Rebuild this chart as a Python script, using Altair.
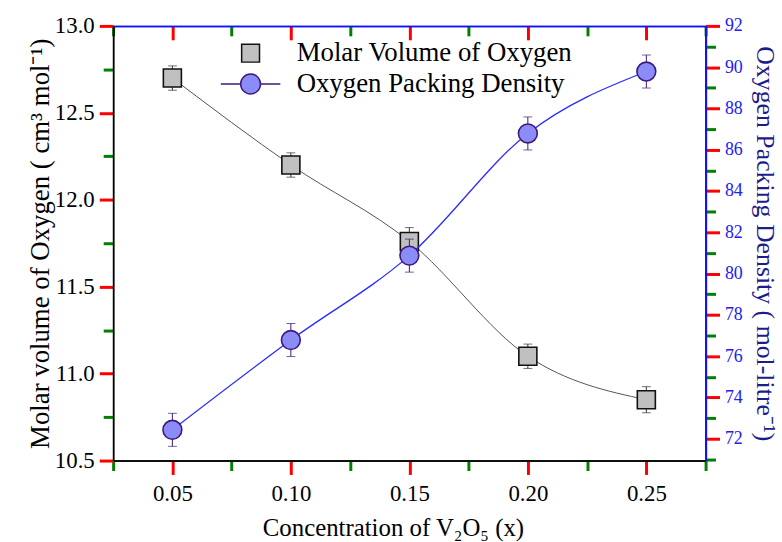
import altair as alt
import pandas as pd

# Measured values
concentration = [0.05, 0.10, 0.15, 0.20, 0.25]
molar_volume = [12.70, 12.20, 11.76, 11.10, 10.85]
molar_volume_err = [0.07, 0.07, 0.08, 0.07, 0.075]
packing_density = [72.43, 76.78, 80.87, 86.79, 89.79]
packing_density_err = [0.8, 0.8, 0.8, 0.8, 0.8]
series_names = ["Molar Volume of Oxygen", "Oxygen Packing Density"]

# Major and minor tick positions
x_major_ticks = [0.05, 0.10, 0.15, 0.20, 0.25]
x_minor_ticks = [0.025, 0.075, 0.125, 0.175, 0.225, 0.275]
left_major_ticks = [10.5, 11.0, 11.5, 12.0, 12.5, 13.0]
left_minor_ticks = [10.75, 11.25, 11.75, 12.25, 12.75]
right_major_ticks = list(range(72, 93, 2))
right_minor_ticks = list(range(71, 92, 2))

W, H = 597, 438
SERIF = "Liberation Serif"
BLUE = "#1010ff"
PURPLE = "#3c1a7a"

mv = pd.DataFrame({
    "x": concentration,
    "v": molar_volume,
    "lo": [m - e for m, e in zip(molar_volume, molar_volume_err)],
    "hi": [m + e for m, e in zip(molar_volume, molar_volume_err)],
})
opd = pd.DataFrame({
    "x": concentration,
    "v": packing_density,
    "lo": [m - e for m, e in zip(packing_density, packing_density_err)],
    "hi": [m + e for m, e in zip(packing_density, packing_density_err)],
})
legend_rows = pd.DataFrame({"series": series_names, "x": [0.05, 0.05], "v": [80.0, 80.0]})

x_scale = alt.Scale(domain=[0.025, 0.275], nice=False, zero=False)
left_scale = alt.Scale(domain=[10.5, 13.0], nice=False, zero=False)
right_scale = alt.Scale(domain=[70.94, 92.0], nice=False, zero=False)


def minor_axis(orient, values, color, width, offset=0):
    return alt.Axis(
        orient=orient, values=values, labels=False, title=None,
        tickSize=10, tickColor="green", tickWidth=3, domainColor=color,
        domainWidth=width, offset=offset,
    )


# x axes: bottom (black, labelled) and top (blue, ticks pointing inward)
ax_bottom = alt.Axis(
    orient="bottom", values=x_major_ticks, format=".2f", title="Concentration of V₂O₅ (x)",
    tickSize=14, tickColor="red", tickWidth=3, domainColor="black",
    domainWidth=1.5, labelFont=SERIF, labelFontSize=23, labelColor="black",
    labelPadding=8, titleFont=SERIF, titleFontSize=25, titleColor="black",
    titlePadding=11, titleX=282,
)
ax_bottom_minor = minor_axis("bottom", x_minor_ticks, "black", 1.5)
ax_top = alt.Axis(
    orient="bottom", offset=-H, values=x_major_ticks, labels=False, title=None,
    tickSize=14, tickColor="red", tickWidth=3, domainColor=BLUE, domainWidth=1.5,
)
ax_top_minor = minor_axis("bottom", x_minor_ticks, BLUE, 1.5, offset=-H)

# Left axis (molar volume)
ax_left = alt.Axis(
    orient="left", values=left_major_ticks, format=".1f",
    title="Molar volume of Oxygen ( cm³ mol⁻¹)", tickSize=14,
    tickColor="red", tickWidth=3, domainColor="black", domainWidth=1.5,
    labelFont=SERIF, labelFontSize=23, labelColor="black", labelPadding=5,
    titleFont=SERIF, titleFontSize=27, titleColor="black", titlePadding=0,
)
ax_left_minor = minor_axis("left", left_minor_ticks, "black", 1.5)

# Right axis (packing density)
ax_right = alt.Axis(
    orient="right", values=right_major_ticks, format="d",
    title="Oxygen Packing Density ( mol-litre⁻¹)", tickSize=14,
    tickColor="red", tickWidth=3, domainColor=BLUE, domainWidth=2,
    labelFont=SERIF, labelFontSize=18, labelColor="#2020f0", labelPadding=5,
    titleFont=SERIF, titleFontSize=26, titleColor="#1c1c8a", titlePadding=9,
)
ax_right_minor = minor_axis("right", right_minor_ticks, BLUE, 2)


def xq(axis=None):
    return alt.X("x:Q", scale=x_scale, axis=axis)


def yq(field, scale, axis=None):
    return alt.Y(field, scale=scale, axis=axis)


# Molar volume series (left axis)
mv_line = alt.Chart(mv).mark_line(color="#555555", strokeWidth=1, interpolate="monotone").encode(
    x=xq(ax_bottom), y=yq("v:Q", left_scale, ax_left))
mv_bar = alt.Chart(mv).mark_rule(color="#333333", strokeWidth=1).encode(
    x=xq(ax_bottom_minor), y=yq("lo:Q", left_scale, ax_left_minor), y2="hi:Q")
mv_cap_lo = alt.Chart(mv).mark_tick(color="#333333", orient="horizontal", size=9, thickness=1).encode(
    x=xq(), y=yq("lo:Q", left_scale))
mv_cap_hi = alt.Chart(mv).mark_tick(color="#333333", orient="horizontal", size=9, thickness=1).encode(
    x=xq(), y=yq("hi:Q", left_scale))
mv_pts = alt.Chart(mv).mark_point(shape="square", filled=True, fill="#c0c0c0", stroke="#111111",
                                  strokeWidth=1.6, size=330, opacity=1).encode(
    x=xq(), y=yq("v:Q", left_scale))

# Packing density series (right axis)
op_line = alt.Chart(opd).mark_line(color="#2a2aff", strokeWidth=1.3, interpolate="monotone").encode(
    x=xq(ax_top), y=yq("v:Q", right_scale, ax_right))
op_bar = alt.Chart(opd).mark_rule(color=PURPLE, strokeWidth=1).encode(
    x=xq(ax_top_minor), y=yq("lo:Q", right_scale, ax_right_minor), y2="hi:Q")
op_cap_lo = alt.Chart(opd).mark_tick(color=PURPLE, orient="horizontal", size=9, thickness=1).encode(
    x=xq(), y=yq("lo:Q", right_scale))
op_cap_hi = alt.Chart(opd).mark_tick(color=PURPLE, orient="horizontal", size=9, thickness=1).encode(
    x=xq(), y=yq("hi:Q", right_scale))
op_pts = alt.Chart(opd).mark_point(shape="circle", filled=True, fill="#8c8cf8", stroke=PURPLE,
                                   strokeWidth=1.6, size=360, opacity=1).encode(
    x=xq(), y=yq("v:Q", right_scale))

# Legend entries
legend = alt.Legend(
    title=None, orient="none", legendX=125, legendY=14, labelFont=SERIF,
    labelFontSize=27, labelColor="black", labelLimit=0, symbolSize=400,
    symbolStrokeWidth=1.5, symbolOpacity=1, labelOffset=33, rowPadding=3,
)
square_path = "M-0.9,-0.9H0.9V0.9H-0.9Z"
circle_path = "M-3,0H-1M1,0H3M-1,0A1,1 0 1,0 1,0A1,1 0 1,0 -1,0Z"
key = alt.Chart(legend_rows).mark_point(filled=True, strokeWidth=1.5).encode(
    x=xq(),
    y=yq("v:Q", right_scale),
    fill=alt.Fill("series:N", scale=alt.Scale(domain=series_names, range=["#c0c0c0", "#8c8cf8"]), legend=legend),
    stroke=alt.Stroke("series:N", scale=alt.Scale(domain=series_names, range=["#111111", PURPLE]), legend=legend),
    shape=alt.Shape("series:N", scale=alt.Scale(domain=series_names, range=[square_path, circle_path]), legend=legend),
    opacity=alt.value(0),
)

chart = (
    alt.layer(mv_line, mv_bar, mv_cap_lo, mv_cap_hi, mv_pts,
              op_line, op_bar, op_cap_lo, op_cap_hi, op_pts, key)
    .resolve_scale(y="independent")
    .resolve_axis(x="independent", y="independent")
    .properties(width=W, height=H, background="white",
                padding={"left": 26, "top": 13, "right": 5, "bottom": 5})
    .configure_view(stroke=None)
    .configure_axis(grid=False, labelFont=SERIF, titleFont=SERIF, titleFontWeight="normal")
    .configure_legend(labelFont=SERIF)
)

chart.save("out.html", embed_options={"renderer": "svg", "actions": False})
